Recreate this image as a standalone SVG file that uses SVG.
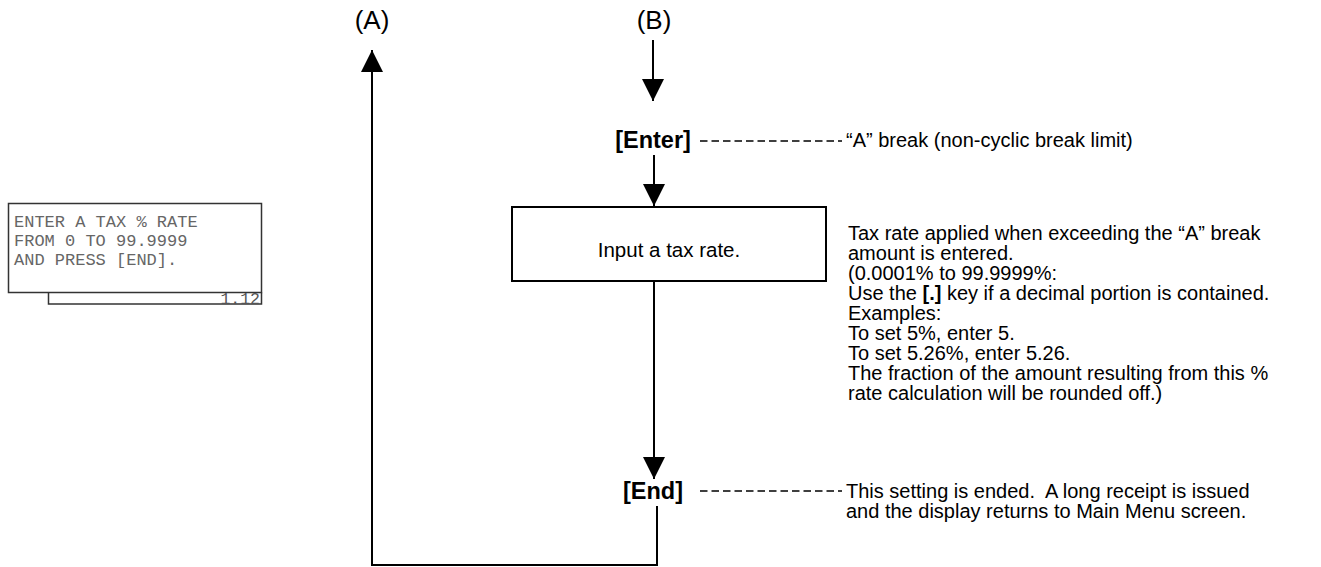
<svg xmlns="http://www.w3.org/2000/svg" width="1321" height="567" viewBox="0 0 1321 567">
<style>
.t{font-family:"Liberation Sans",Arial,sans-serif;font-size:20px;fill:#000}
.b{font-weight:bold}
.hd{font-family:"Liberation Sans",Arial,sans-serif;font-size:23.5px;font-weight:bold;fill:#000}
.lbl{font-family:"Liberation Sans",Arial,sans-serif;font-size:26px;fill:#000}
.ln{stroke:#000;stroke-width:2;fill:none}
.dash{stroke:#000;stroke-width:1.5;stroke-dasharray:7.5,4;fill:none}
.lcd{font-family:"Liberation Mono","Courier New",monospace;font-size:17px;fill:#666}
</style>
<defs>
<marker id="ah" viewBox="0 0 22 22" refX="22" refY="11" markerWidth="22" markerHeight="22" markerUnits="userSpaceOnUse" orient="auto"><path d="M0,0 L22,11 L0,22 Z" fill="#000"/></marker>
</defs>
<g id="lcd">
<rect x="8.5" y="203.5" width="253" height="89" fill="#fff" stroke="#333" stroke-width="1.5"/>
<path d="M48.5,292.5 V304 H261.5 V292.5" fill="none" stroke="#333" stroke-width="1.5"/>
<text class="lcd" x="14" y="227">ENTER A TAX % RATE</text>
<text class="lcd" x="14" y="246">FROM 0 TO 99.9999</text>
<text class="lcd" x="14" y="265">AND PRESS [END].</text>
<text class="lcd" x="260" y="304" text-anchor="end" style="font-size:16.5px;fill:#555">1.12</text>
</g>
<g id="labelA"><text class="lbl" x="372" y="29" text-anchor="middle">(A)</text></g>
<g id="labelB"><text class="lbl" x="654" y="29" text-anchor="middle">(B)</text></g>
<g id="enter">
<text class="hd" x="653" y="148" text-anchor="middle">[Enter]</text>
<text class="t" x="846" y="147">“A” break (non-cyclic break limit)</text>
</g>
<g id="input">
<rect x="512" y="207" width="314" height="74" fill="#fff" stroke="#000" stroke-width="2"/>
<text class="t" x="669" y="257" text-anchor="middle" style="font-size:20.5px">Input a tax rate.</text>
</g>
<g id="note">
<text class="t" x="848" y="240">Tax rate applied when exceeding the “A” break</text>
<text class="t" x="848" y="260">amount is entered.</text>
<text class="t" x="848" y="280">(0.0001% to 99.9999%:</text>
<text class="t" x="848" y="300">Use the <tspan class="b">[.]</tspan> key if a decimal portion is contained.</text>
<text class="t" x="848" y="320">Examples:</text>
<text class="t" x="848" y="340">To set 5%, enter 5.</text>
<text class="t" x="848" y="360">To set 5.26%, enter 5.26.</text>
<text class="t" x="848" y="380">The fraction of the amount resulting from this %</text>
<text class="t" x="848" y="400">rate calculation will be rounded off.)</text>
</g>
<g id="end">
<text class="hd" x="653" y="499" text-anchor="middle">[End]</text>
<text class="t" x="846" y="498">This setting is ended.&#160; A long receipt is issued</text>
<text class="t" x="846" y="518">and the display returns to Main Menu screen.</text>
</g>
<g id="connectors">
<line class="ln" x1="653" y1="40" x2="653" y2="101" marker-end="url(#ah)"/>
<line class="dash" x1="700" y1="141" x2="842" y2="141"/>
<line class="ln" x1="654" y1="155" x2="654" y2="206" marker-end="url(#ah)"/>
<line class="ln" x1="654" y1="281" x2="654" y2="479" marker-end="url(#ah)"/>
<line class="dash" x1="700" y1="491" x2="842" y2="491"/>
<polyline class="ln" points="657,506 657,565 372,565 372,50" marker-end="url(#ah)"/>
</g>
</svg>
